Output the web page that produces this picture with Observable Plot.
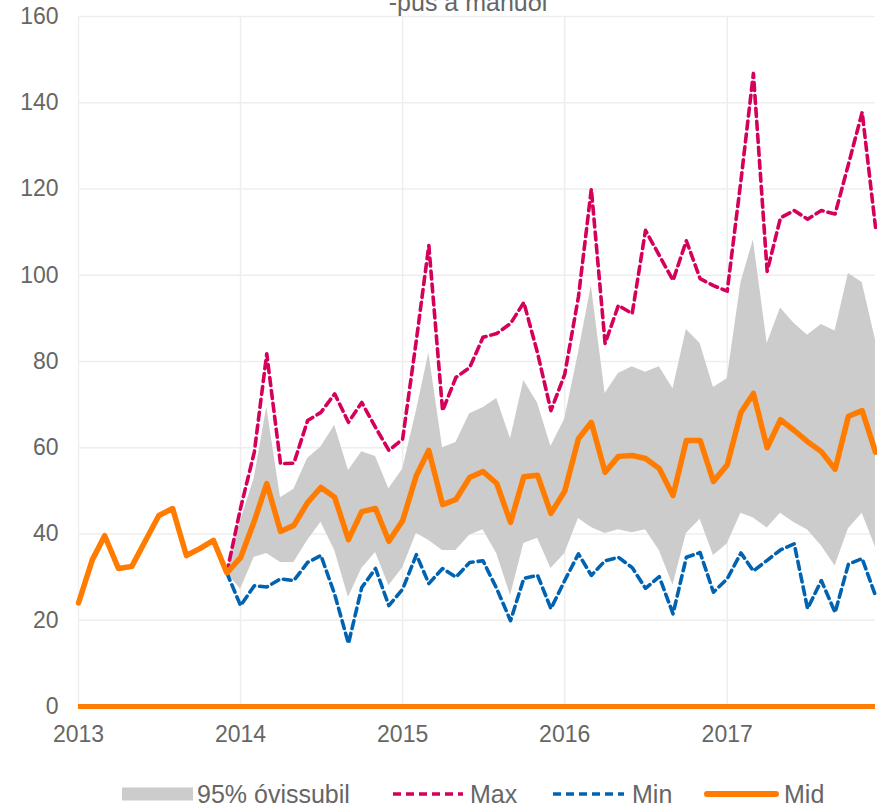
<!DOCTYPE html>
<html>
<head>
<meta charset="utf-8">
<script src="https://cdn.jsdelivr.net/npm/d3@7"></script>
<script src="https://cdn.jsdelivr.net/npm/@observablehq/plot@0.6"></script>
<style>
  html, body { margin: 0; padding: 0; background: #fff; }
  #wrap { position: relative; width: 877px; height: 807px; overflow: hidden; font-family: "Liberation Sans", Arial, sans-serif; }
  #chart { position: absolute; left: 0; top: 0; }
  .overlay { position: absolute; left: 0; pointer-events: none; overflow: visible; }
</style>
</head>
<body>
<div id="wrap">
  <div id="chart"></div>
</div>
<script>
// ---- Data ----
const N = null;
const startMonth = "2013-01-01";
const endMonth = "2018-01-01";
const yearTickLabels = [2013, 2014, 2015, 2016, 2017];
const yTicks = [0, 20, 40, 60, 80, 100, 120, 140, 160];
const titleText = "-pus á mánuði";
const legendLabels = ["95% óvissubil", "Max", "Min", "Mid"];

const midV = [24,34,39.6,32,32.5,38.5,44.3,45.9,35,36.6,38.5,31,
  34.5,43,51.7,40.6,42,47.3,50.8,48.5,38.7,45.2,45.9,38.3,
  43.1,53.6,59.4,46.8,48,53.1,54.5,51.7,42.7,53.3,53.6,44.8,
  49.9,62.1,65.9,54.3,58,58.2,57.5,55.2,48.9,61.7,61.7,52.2,
  56,68.2,72.6,60,66.5,64,61.4,59.1,55,67.3,68.6,59];

const maxV = [N,N,N,N,N,N,N,N,N,N,N,31,
  46,59,81.8,56.3,56.4,66.3,68.2,72.5,65.9,70.5,64.7,59.4,
  62,85,106.9,68.6,76.3,78.6,85.6,86.5,88.8,93.7,81.9,68.6,
  77,95,120,84.2,93,91.1,110.4,104.6,98.8,108,99.2,97.6,
  96.3,122,146.8,100.9,113.3,115,113,115,114.2,125.7,137.8,111.1];

const minV = [N,N,N,N,N,N,N,N,N,N,N,31,
  23.4,28,27.7,29.6,29.2,33.4,35,26,14.6,27.6,32,23.4,
  27.2,35.2,28.5,32,30,33.4,33.8,27.3,19.9,29.7,30.4,22.7,
  29.2,35.4,30.4,33.8,34.6,32.2,27.4,30.1,21.5,34.6,35.7,26.5,
  29.6,35.6,31.4,33.9,36.3,37.7,22.7,29.2,21.8,33,34.3,25.7];

const hiV = [N,N,N,N,N,N,N,N,N,N,N,31,
  43,53,69.4,48.4,50.4,57.5,60.2,65.2,54.7,59.1,58,50.5,
  55,68.5,82,60,61.2,67.9,69.3,71.4,62.1,75.6,70.3,60.3,
  66.6,82,97.6,72.6,77.2,78.8,77.5,78.8,73.7,87.4,84.2,74,
  76,98.3,108.2,84.2,92.4,88.8,86.1,88.6,87.1,100.4,98.3,85];

const loV = [N,N,N,N,N,N,N,N,N,N,N,31,
  27.2,34.6,35.5,33.4,33.4,38.5,42.7,36.2,25.3,32,35.7,28,
  32.1,40.2,38.5,36.2,36.2,39.7,41,35.4,25.7,37.8,39,32,
  35.4,43.6,41.5,40.1,41,40.3,41,36.2,28.1,40.1,43.4,35,
  37.7,44.8,43.7,41.4,44.8,42.6,40.9,37.3,32.6,41.2,44.8,36.9];

const baseline = [0];

// ---- Build table ----
const months = d3.utcMonth.range(new Date(startMonth), new Date(endMonth));
const rows = months.map((date, i) => ({date, mid: midV[i], max: maxV[i], min: minV[i], lo: loV[i], hi: hiV[i]}));
const fc = rows.filter(d => d.max != null);
const yearTicks = yearTickLabels.map(y => new Date(Date.UTC(y, 0, 1)));

const C = {band: "#cccccc", max: "#d5005a", min: "#0063b1", mid: "#ff7c00", grid: "#eeeeee", text: "#666666"};

const chart = Plot.plot({
  width: 877,
  height: 760,
  marginTop: 16,
  marginBottom: 54,
  marginLeft: 78,
  marginRight: 2,
  style: {fontFamily: '"Liberation Sans", Arial, sans-serif', fontSize: "23px", color: C.text, background: "#fff", overflow: "visible"},
  x: {type: "utc", domain: [months[0], months[months.length - 1]]},
  y: {domain: [0, 160]},
  marks: [
    Plot.gridY(yTicks, {stroke: C.grid, strokeOpacity: 1, strokeWidth: 1.5}),
    Plot.gridX(yearTicks, {stroke: C.grid, strokeOpacity: 1, strokeWidth: 1.5}),
    Plot.areaY(fc, {x: "date", y1: "lo", y2: "hi", fill: C.band}),
    Plot.lineY(fc, {x: "date", y: "max", stroke: C.max, strokeWidth: 3.6, strokeDasharray: "8,5"}),
    Plot.lineY(fc, {x: "date", y: "min", stroke: C.min, strokeWidth: 3.6, strokeDasharray: "8,5"}),
    Plot.lineY(rows, {x: "date", y: "mid", stroke: C.mid, strokeWidth: 5.5, strokeLinejoin: "round"}),
    Plot.ruleY(baseline, {stroke: C.mid, strokeWidth: 5}),
    Plot.axisY({ticks: yTicks, tickSize: 0, tickPadding: 20, label: null}),
    Plot.axisX({ticks: yearTicks, tickFormat: d3.utcFormat("%Y"), tickSize: 0, tickPadding: 19, label: null})
  ]
});
document.getElementById("chart").appendChild(chart);

// ---- Title (cut at top, as in the reference) ----
const ns = "http://www.w3.org/2000/svg";
const wrap = document.getElementById("wrap");
const tsvg = document.createElementNS(ns, "svg");
tsvg.setAttribute("class", "overlay");
tsvg.setAttribute("width", 877); tsvg.setAttribute("height", 30);
tsvg.style.top = "0px";
const tt = document.createElementNS(ns, "text");
tt.setAttribute("x", 468); tt.setAttribute("y", 11);
tt.setAttribute("text-anchor", "middle");
tt.setAttribute("font-size", 25);
tt.setAttribute("fill", C.text);
tt.setAttribute("font-family", '"Liberation Sans", Arial, sans-serif');
tt.textContent = titleText;
tsvg.appendChild(tt);
wrap.appendChild(tsvg);

// ---- Legend ----
const lsvg = document.createElementNS(ns, "svg");
lsvg.setAttribute("class", "overlay");
lsvg.setAttribute("width", 877); lsvg.setAttribute("height", 53);
lsvg.style.top = "754px";
function el(name, attrs, text) {
  const e = document.createElementNS(ns, name);
  for (const k in attrs) e.setAttribute(k, attrs[k]);
  if (text) e.textContent = text;
  lsvg.appendChild(e);
  return e;
}
const ly = 40;
const tAttrs = {"font-size": 25, fill: C.text, "font-family": '"Liberation Sans", Arial, sans-serif', y: 48.5};
el("rect", {x: 122, y: 33.5, width: 71, height: 13, fill: C.band});
el("text", {...tAttrs, x: 197}, legendLabels[0]);
el("line", {x1: 393, x2: 463, y1: ly, y2: ly, stroke: C.max, "stroke-width": 3.6, "stroke-dasharray": "8,5"});
el("text", {...tAttrs, x: 470}, legendLabels[1]);
el("line", {x1: 553, x2: 624, y1: ly, y2: ly, stroke: C.min, "stroke-width": 3.6, "stroke-dasharray": "8,5"});
el("text", {...tAttrs, x: 632}, legendLabels[2]);
el("line", {x1: 707, x2: 776, y1: ly, y2: ly, stroke: C.mid, "stroke-width": 6, "stroke-linecap": "round"});
el("text", {...tAttrs, x: 784}, legendLabels[3]);
wrap.appendChild(lsvg);
</script>
</body>
</html>
